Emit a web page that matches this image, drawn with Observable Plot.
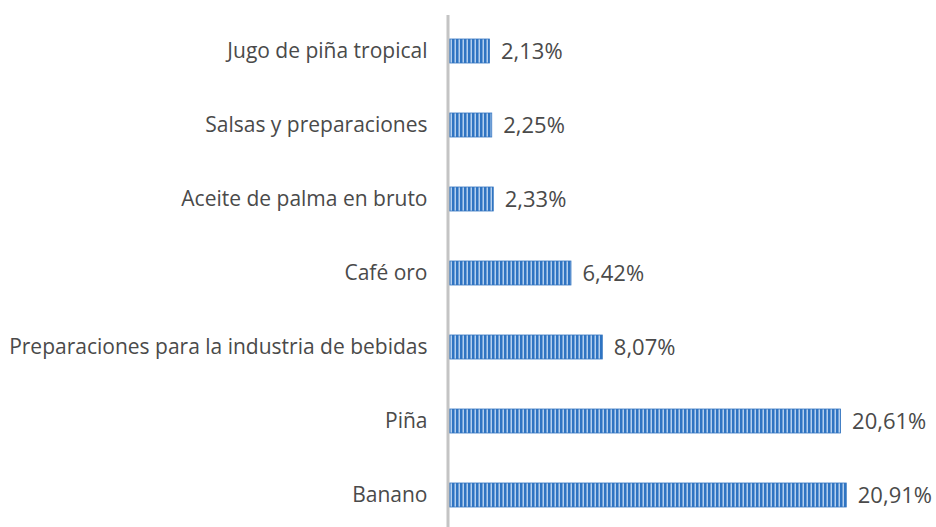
<!DOCTYPE html>
<html>
<head>
<meta charset="utf-8">
<script src="https://cdn.jsdelivr.net/npm/d3@7"></script>
<script src="https://cdn.jsdelivr.net/npm/@observablehq/plot@0.6"></script>
<style>
  html, body { margin: 0; padding: 0; background: #fff; }
</style>
</head>
<body>
<div id="chart"></div>
<script>
const categories = [
  "Jugo de piña tropical",
  "Salsas y preparaciones",
  "Aceite de palma en bruto",
  "Café oro",
  "Preparaciones para la industria de bebidas",
  "Piña",
  "Banano"
];
const values = [2.13, 2.25, 2.33, 6.42, 8.07, 20.61, 20.91];

const data = categories.map((c, i) => ({category: c, value: values[i]}));
const fmt = v => v.toFixed(2).replace(".", ",") + "%";

const chart = Plot.plot({
  width: 936,
  height: 527,
  marginLeft: 449,
  marginRight: 12,
  marginTop: 15,
  marginBottom: 0,
  style: {fontFamily: "'Open Sans', sans-serif", fontSize: "21px", color: "#4a4a4a", background: "#fff"},
  x: {domain: [0, 25], axis: null},
  y: {domain: categories, range: [14, 532], paddingInner: 0.68, paddingOuter: 0.34, tickSize: 0, tickPadding: 22, label: null},
  marks: [
    Plot.barX(data, {x: "value", y: "category", fill: "url(#stripes)", stroke: "#3576C0", strokeWidth: 0.8}),
    Plot.ruleX([0], {stroke: "#C4C4C4", strokeWidth: 3, dx: -1.5}),
    Plot.text(data, {x: "value", y: "category", text: d => fmt(d.value), dx: 11, textAnchor: "start", fill: "#4a4a4a", fontSize: 22})
  ]
});

const svg = d3.select(chart);
const defs = svg.insert("defs", ":first-child");
const pat = defs.append("pattern")
  .attr("id", "stripes")
  .attr("patternUnits", "userSpaceOnUse")
  .attr("width", 4)
  .attr("height", 10);
pat.append("rect").attr("width", 4).attr("height", 10).attr("fill", "#2F74C2");
pat.append("rect").attr("x", 2.5).attr("width", 1.5).attr("height", 10).attr("fill", "#B4CFEE");

document.getElementById("chart").appendChild(chart);
</script>
</body>
</html>
